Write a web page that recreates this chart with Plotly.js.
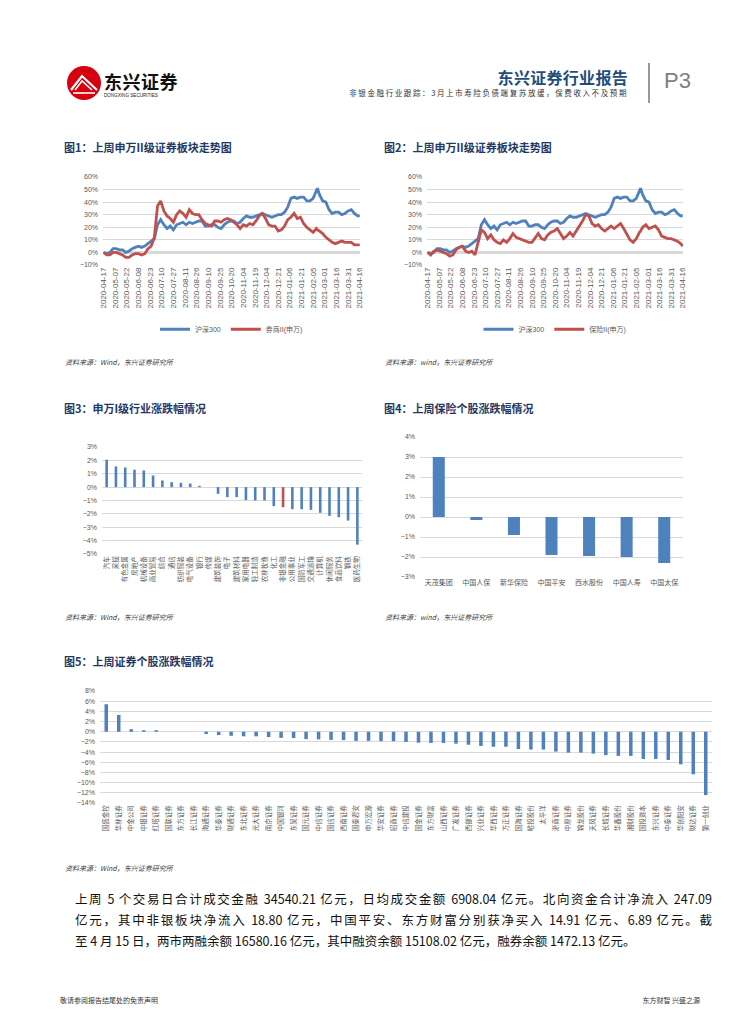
<!DOCTYPE html>
<html><head><meta charset="utf-8">
<script src="https://cdn.plot.ly/plotly-3.0.1.min.js"></script>
<style>
body{margin:0;width:755px;height:1024px;background:#fff;position:relative;overflow:hidden;font-family:"Noto Sans CJK SC",sans-serif;}
.abs{position:absolute;white-space:nowrap;}
.cap{font-size:11px;font-weight:bold;color:#1F3864;line-height:15px;}
.src{font-size:7px;color:#404040;font-style:italic;line-height:10px;}
.para{position:absolute;left:75px;width:637px;font-size:12.5px;line-height:18px;color:#111;text-align:justify;text-align-last:justify;}
</style></head><body>

<svg class="abs" style="left:66px;top:65px" width="36" height="36" viewBox="0 0 36 36">
  <circle cx="18" cy="18" r="17" fill="#D7000F"/>
  <path d="M5 25 L16 11 L31 25" fill="none" stroke="#fff" stroke-width="2.2"/>
  <path d="M9 25 L16 16 L26 25" fill="none" stroke="#fff" stroke-width="1.6"/>
  <path d="M7 28 L29 28" stroke="#fff" stroke-width="1.6"/>
</svg>
<div class="abs" style="left:104px;top:70px;font-size:18px;font-weight:bold;color:#111;letter-spacing:0.5px;line-height:22px;">东兴证券</div>
<div class="abs" style="left:104px;top:93px;font-size:4.6px;color:#222;font-family:'Liberation Sans',sans-serif;line-height:6px;">DONGXING SECURITIES</div>
<div class="abs" style="right:127px;top:67px;font-size:16px;font-weight:bold;color:#1F4E79;line-height:20px;letter-spacing:0.3px;">东兴证券行业报告</div>
<div class="abs" style="right:127px;top:88px;font-size:7.5px;color:#333;line-height:10px;letter-spacing:1.6px;">非银金融行业跟踪：3月上市寿险负债端复苏放缓，保费收入不及预期</div>
<div class="abs" style="left:648px;top:63px;width:1.5px;height:40px;background:#999;"></div>
<div class="abs" style="left:664px;top:68px;font-size:22px;color:#808080;font-family:'Liberation Sans',sans-serif;line-height:26px;">P3</div>

<div class="abs cap" style="left:64px;top:140px;">图1：上周申万II级证券板块走势图</div>
<div class="abs cap" style="left:384px;top:140px;">图2：上周申万II级证券板块走势图</div>
<div id="c1" class="abs" style="left:60px;top:165px;width:310px;height:190px;"></div>
<div id="c2" class="abs" style="left:385px;top:165px;width:310px;height:190px;"></div>
<div class="abs src" style="left:65px;top:357px;">资料来源：Wind，东兴证券研究所</div>
<div class="abs src" style="left:385px;top:357px;">资料来源：wind，东兴证券研究所</div>

<div class="abs cap" style="left:64px;top:401px;">图3：申万I级行业涨跌幅情况</div>
<div class="abs cap" style="left:384px;top:401px;">图4：上周保险个股涨跌幅情况</div>
<div id="c3" class="abs" style="left:60px;top:430px;width:310px;height:180px;"></div>
<div id="c4" class="abs" style="left:385px;top:400px;width:310px;height:200px;"></div>
<div class="abs src" style="left:65px;top:612px;">资料来源：Wind，东兴证券研究所</div>
<div class="abs src" style="left:385px;top:612px;">资料来源：wind，东兴证券研究所</div>

<div class="abs cap" style="left:64px;top:654px;">图5：上周证券个股涨跌幅情况</div>
<div id="c5" class="abs" style="left:60px;top:680px;width:670px;height:185px;"></div>
<div class="abs src" style="left:65px;top:863px;">资料来源：Wind，东兴证券研究所</div>

<div class="para" style="top:890px;">上周 5 个交易日合计成交金融 34540.21 亿元，日均成交金额 6908.04 亿元。北向资金合计净流入 247.09</div>
<div class="para" style="top:911px;">亿元，其中非银板块净流入 18.80 亿元，中国平安、东方财富分别获净买入 14.91 亿元、6.89 亿元。截</div>
<div class="para" style="top:932px;text-align-last:left;">至 4 月 15 日，两市两融余额 16580.16 亿元，其中融资余额 15108.02 亿元，融券余额 1472.13 亿元。</div>

<div class="abs" style="left:60px;top:995px;font-size:7px;color:#333;line-height:10px;">敬请参阅报告结尾处的免责声明</div>
<div class="abs" style="right:55px;top:995px;font-size:7px;color:#333;line-height:10px;">东方财智 兴盛之源</div>

<script>
// ---------- data: line charts (cumulative change %, base 2020-04-17) ----------
const lineDates = ['2020-04-17','2020-04-22','2020-04-27','2020-04-30','2020-05-08','2020-05-13','2020-05-18','2020-05-21','2020-05-26','2020-05-29',
'2020-06-03','2020-06-08','2020-06-11','2020-06-16','2020-06-19','2020-06-24','2020-07-01','2020-07-06','2020-07-09','2020-07-14',
'2020-07-17','2020-07-22','2020-07-27','2020-07-30','2020-08-04','2020-08-07','2020-08-12','2020-08-17','2020-08-20','2020-08-25',
'2020-08-28','2020-09-02','2020-09-07','2020-09-10','2020-09-15','2020-09-18','2020-09-23','2020-09-28','2020-10-09','2020-10-14',
'2020-10-19','2020-10-22','2020-10-27','2020-10-30','2020-11-04','2020-11-09','2020-11-12','2020-11-17','2020-11-20','2020-11-25',
'2020-11-30','2020-12-03','2020-12-08','2020-12-11','2020-12-16','2020-12-21','2020-12-24','2020-12-29','2021-01-04','2021-01-07',
'2021-01-12','2021-01-15','2021-01-20','2021-01-25','2021-01-28','2021-02-02','2021-02-05','2021-02-10','2021-02-18','2021-02-22',
'2021-02-25','2021-03-02','2021-03-05','2021-03-10','2021-03-15','2021-03-18','2021-03-23','2021-03-26','2021-03-31','2021-04-06',
'2021-04-09','2021-04-14','2021-04-16'];
const hs300 = [0,-1,0,3,3,2,2,0,1,3, 4,5,4,5,7,9,11,22,26,22, 19,21,18,22,23,24,22,24,23,24,
25,25,21,21,22,22,20,19,22,24, 25,25,23,24,27,29,28,28,29,30, 31,30,29,28,29,30,30,32,36,43,
44,43,44,44,41,41,43,49,51,46, 41,40,34,31,32,32,30,31,33,34, 31,29,29];
const brokerII = [0,-2,-2,0,0,-1,-2,-4,-4,-2, -1,-1,-2,-1,3,5,12,37,41,33, 29,27,24,30,33,31,28,34,31,30,
30,26,23,22,21,25,25,24,26,27, 26,24,22,19,22,21,23,22,25,29, 31,27,22,21,21,17,18,21,26,28,
31,27,28,23,20,18,16,19,18,17, 15,12,10,8,7,8,9,8,8,8, 6,6,6];
const insuranceII = [0,-2,1,2,1,0,-1,-3,-2,2, 4,5,1,0,1,-2,8,18,16,11, 14,10,8,7,10,8,11,15,12,11,
10,9,8,8,12,15,11,10,14,16, 17,19,15,11,13,16,13,17,20,25, 30,29,23,21,22,19,17,19,21,19,
21,23,19,15,10,8,11,16,17,20, 22,19,20,21,18,13,12,11,11,10, 9,7,5];
const lineTickLabels = ['2020-04-17','2020-05-07','2020-05-22','2020-06-08','2020-06-23','2020-07-10','2020-07-27','2020-08-11',
'2020-08-26','2020-09-10','2020-09-25','2020-10-20','2020-11-04','2020-11-19','2020-12-04','2020-12-21','2021-01-06','2021-01-21',
'2021-02-05','2021-03-01','2021-03-16','2021-03-31','2021-04-16'];
const marketHolidays = ['2020-05-01','2020-05-04','2020-05-05','2020-06-25','2020-06-26','2020-10-01','2020-10-02','2020-10-05',
'2020-10-06','2020-10-07','2020-10-08','2021-01-01','2021-02-11','2021-02-12','2021-02-15','2021-02-16','2021-02-17','2021-04-05'];

// ---------- data: SW level-1 industries weekly change % ----------
const industries = ['汽车','采掘','有色金属','房地产','机械设备','商业贸易','综合','通信','纺织服装','电气设备','银行','传媒','建筑装饰','电子',
'建筑材料','家用电器','轻工制造','农林牧渔','化工','非银金融','公用事业','国防军工','交通运输','计算机','休闲服务','食品饮料','钢铁','医药生物'];
const industryChg = [2.05,1.55,1.47,1.3,1.25,0.87,0.5,0.37,0.32,0.27,0.1,0.0,-0.5,-0.75,-0.75,-0.97,-1.0,-1.0,-1.42,-1.5,-1.65,-1.65,-1.7,-1.92,-2.15,-2.25,-2.5,-4.3];
const highlightIndustry = '非银金融';

// ---------- data: insurance stocks ----------
const insurers = ['天茂集团','中国人保','新华保险','中国平安','西水股份','中国人寿','中国太保'];
const insurerChg = [3.0,-0.15,-0.9,-1.9,-1.95,-2.0,-2.3];

// ---------- data: securities stocks ----------
const brokers = ['国盛金控','华林证券','中金公司','中银证券','红塔证券','国联证券','东方证券','长江证券','海通证券','华泰证券',
'财通证券','东北证券','光大证券','南京证券','中国银河','东吴证券','国元证券','中信证券','国信证券','西南证券',
'国泰君安','申万宏源','华安证券','招商证券','中信建投','国金证券','东方财富','山西证券','广发证券','西部证券',
'兴业证券','华西证券','方正证券','国海证券','哈投股份','太平洋','浙商证券','中原证券','锦龙股份','天风证券',
'长城证券','华鑫股份','湘财股份','国投资本','东兴证券','中泰证券','华创阳安','财达证券','第一创业'];
const brokerChg = [5.4,3.3,0.5,0.3,0.3,0,0,0,-0.45,-0.65,-0.8,-0.9,-0.9,-1.05,-1.2,-1.25,-1.45,-1.5,-1.6,-1.65,
-1.8,-1.8,-1.85,-1.85,-2.0,-2.15,-2.2,-2.2,-2.35,-2.55,-2.8,-2.95,-2.95,-3.4,-3.5,-3.5,-3.9,-4.1,-4.1,-4.3,
-4.6,-4.75,-4.75,-5.35,-5.35,-5.55,-6.4,-8.35,-12.45];

// ---------- styles ----------
const FONT = '"Liberation Sans","Noto Sans CJK SC",sans-serif';
const BLUE = '#4F81BD', RED = '#C0504D', GRID = '#D9D9D9', TXT = '#595959';
const cfg = {staticPlot:true, displayModeBar:false};

function lineChart(id, redName, redVals, marg){
  const traces = [
    {type:'scatter', mode:'lines', x:lineDates, y:hs300, name:'沪深300', line:{color:BLUE, width:2.8}},
    {type:'scatter', mode:'lines', x:lineDates, y:redVals, name:redName, line:{color:RED, width:2.8}}
  ];
  const layout = {
    width:310, height:190, margin:marg,
    paper_bgcolor:'rgba(0,0,0,0)', plot_bgcolor:'rgba(0,0,0,0)',
    font:{family:FONT, color:TXT},
    showlegend:true,
    legend:{orientation:'h', x:0.5, xanchor:'center', y:-0.73, yanchor:'middle', font:{size:7, color:TXT}, itemwidth:30, tracegroupgap:0},
    xaxis:{type:'date', range:['2020-04-16 12:00','2021-04-16 06:00'],
      rangebreaks:[{bounds:['sat','mon']},{values:marketHolidays}],
      tickmode:'array', tickvals:lineTickLabels, ticktext:lineTickLabels, tickangle:-90,
      tickfont:{size:8, color:TXT}, showgrid:false, showline:false, ticks:'', zeroline:false},
    yaxis:{range:[-10,60], dtick:10, ticksuffix:'%', tickfont:{size:7, color:TXT}, gridcolor:GRID, gridwidth:1,
      zeroline:true, zerolinecolor:GRID, zerolinewidth:3, showline:false, ticks:'', ticklabelstandoff:4}
  };
  Plotly.newPlot(id, traces, layout, cfg);
}
lineChart('c1','券商II(申万)', brokerII, {l:43, r:10, t:12, b:90});
lineChart('c2','保险II(申万)', insuranceII, {l:42, r:12, t:12, b:90});

// chart 3
Plotly.newPlot('c3', [{type:'bar', x:industries, y:industryChg,
  marker:{color:industries.map(n => n === highlightIndustry ? RED : BLUE)}}], {
  width:310, height:180, margin:{l:42, r:8, t:17, b:56},
  paper_bgcolor:'rgba(0,0,0,0)', plot_bgcolor:'rgba(0,0,0,0)', font:{family:FONT, color:TXT},
  bargap:0.72, showlegend:false,
  xaxis:{type:'category', tickangle:-90, tickfont:{size:6.5, color:TXT}, showgrid:false, ticks:'', showline:false},
  yaxis:{range:[-5,3], dtick:1, ticksuffix:'%', tickfont:{size:7, color:TXT}, gridcolor:GRID, zeroline:false, ticks:'', ticklabelstandoff:4}
}, cfg);

// chart 4
Plotly.newPlot('c4', [{type:'bar', x:insurers, y:insurerChg, marker:{color:BLUE}}], {
  width:310, height:200, margin:{l:35, r:12, t:37, b:23},
  paper_bgcolor:'rgba(0,0,0,0)', plot_bgcolor:'rgba(0,0,0,0)', font:{family:FONT, color:TXT},
  bargap:0.68, showlegend:false,
  xaxis:{type:'category', tickangle:0, tickfont:{size:7, color:TXT, family:'"Noto Sans CJK SC",sans-serif'}, showgrid:false, ticks:'', showline:false},
  yaxis:{range:[-3,4], dtick:1, ticksuffix:'%', tickfont:{size:7, color:TXT}, gridcolor:GRID, zeroline:false, ticks:'', ticklabelstandoff:4}
}, cfg);

// chart 5
Plotly.newPlot('c5', [{type:'bar', x:brokers, y:brokerChg, marker:{color:BLUE}}], {
  width:670, height:185, margin:{l:40, r:18, t:11, b:62},
  paper_bgcolor:'rgba(0,0,0,0)', plot_bgcolor:'rgba(0,0,0,0)', font:{family:FONT, color:TXT},
  bargap:0.72, showlegend:false,
  xaxis:{type:'category', tickangle:-90, tickfont:{size:6.5, color:TXT}, showgrid:false, ticks:'', showline:false},
  yaxis:{range:[-14,8], dtick:2, ticksuffix:'%', tickfont:{size:7, color:TXT}, gridcolor:GRID, zeroline:false, ticks:'', ticklabelstandoff:4}
}, cfg);
</script>
</body></html>
